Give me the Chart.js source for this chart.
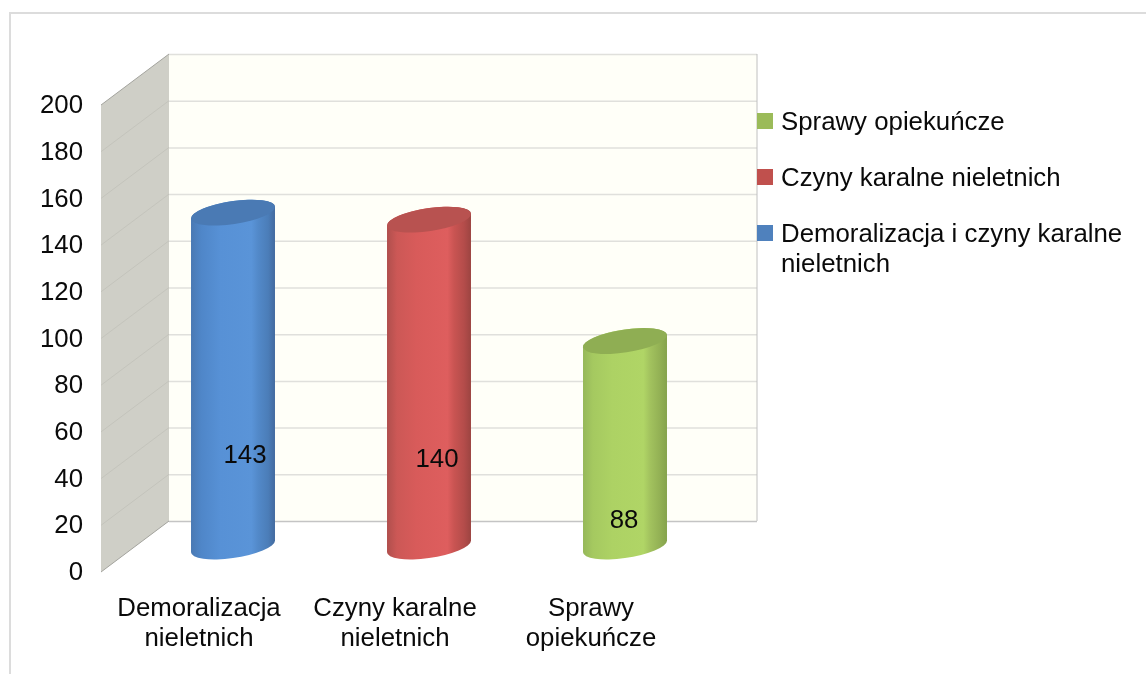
<!DOCTYPE html>
<html>
<head>
<meta charset="utf-8">
<style>
  html, body { margin: 0; padding: 0; background: #fff; }
  canvas { display: block; }
</style>
<script src="https://cdn.jsdelivr.net/npm/chart.js@4"></script>
</head>
<body>
<canvas id="chart" width="1146" height="674"></canvas>
<script>
const categories = [['Demoralizacja', 'nieletnich'], ['Czyny karalne', 'nieletnich'], ['Sprawy', 'opiekuńcze']];
const counts = [143, 140, 88];
const legendNames = [['Sprawy opiekuńcze'], ['Czyny karalne nieletnich'], ['Demoralizacja i czyny karalne', 'nieletnich']];
const legendColors = ['#9bbb59', '#c0504d', '#4f81bd'];
const barColors = ['#4f81bd', '#c0504d', '#9bbb59'];
const capColors = ['#4a7ab4', '#b85250', '#8fae53'];
const bodyStops = [
  ['#4a79b3', '#4f86c8', '#5791d6', '#5a94d8', '#5289c9', '#4b7db8', '#436a9f'],
  ['#b04f4d', '#cc5856', '#d85b5a', '#de5e5e', '#c95452', '#b34c4a', '#9c4441'],
  ['#96b85a', '#a5c960', '#add264', '#b0d566', '#a2c25e', '#92b054', '#85a34c'],
];
const stopAt = [0, 0.12, 0.35, 0.72, 0.8, 0.92, 1];

// moved by hand in the original, so kept as offsets from the foot of each cylinder
const labelOffsets = [[12, -92], [8, -88], [-1, -27]];

const FONT = '"Liberation Sans", Arial, sans-serif';
const TEXT = '#0a0a0a';
const FONT_SIZE = 25.8;
const DEPTH_X = 68;
const DEPTH_Y = 51;
const TILT = -8.5 * Math.PI / 180;

const frame = {
  id: 'frame',
  beforeDraw(chart) {
    const { ctx, width, height, chartArea: a, scales: { y } } = chart;
    ctx.save();
    ctx.strokeStyle = '#dcdcdc';
    ctx.lineWidth = 2;
    ctx.beginPath();
    ctx.moveTo(10, height);
    ctx.lineTo(10, 13);
    ctx.lineTo(width, 13);
    ctx.stroke();

    // side wall
    ctx.fillStyle = '#cfcfc7';
    ctx.beginPath();
    ctx.moveTo(a.left, a.top);
    ctx.lineTo(a.left + DEPTH_X, a.top - DEPTH_Y);
    ctx.lineTo(a.left + DEPTH_X, a.bottom - DEPTH_Y);
    ctx.lineTo(a.left, a.bottom);
    ctx.closePath();
    ctx.fill();

    // back wall
    ctx.fillStyle = '#fffff8';
    ctx.fillRect(a.left + DEPTH_X, a.top - DEPTH_Y, a.right - a.left, a.bottom - a.top);

    y.ticks.forEach((t) => {
      const py = y.getPixelForValue(t.value);
      if (t.value > 0 && t.value < 200) {
        ctx.strokeStyle = '#c4c4bc';
        ctx.lineWidth = 1;
        ctx.beginPath();
        ctx.moveTo(a.left, py);
        ctx.lineTo(a.left + DEPTH_X, py - DEPTH_Y);
        ctx.stroke();
      }
      ctx.strokeStyle = t.value === 0 ? '#c4c4c4' : '#e0e0dc';
      ctx.lineWidth = 1.5;
      ctx.beginPath();
      ctx.moveTo(a.left + DEPTH_X, py - DEPTH_Y + 0.5);
      ctx.lineTo(a.right + DEPTH_X, py - DEPTH_Y + 0.5);
      ctx.stroke();
    });

    // wall edges
    ctx.lineWidth = 1;
    ctx.strokeStyle = '#c0c0c0';
    ctx.beginPath();
    ctx.moveTo(a.right + DEPTH_X, a.top - DEPTH_Y);
    ctx.lineTo(a.right + DEPTH_X, a.bottom - DEPTH_Y);
    ctx.stroke();
    ctx.strokeStyle = '#a3a39d';
    ctx.beginPath();
    ctx.moveTo(a.left, a.top);
    ctx.lineTo(a.left + DEPTH_X, a.top - DEPTH_Y);
    ctx.moveTo(a.left, a.bottom);
    ctx.lineTo(a.left + DEPTH_X, a.bottom - DEPTH_Y);
    ctx.stroke();
    ctx.restore();
  },
};

const cylinders = {
  id: 'cylinders',
  // the library's flat bar is replaced, its geometry is still what places the cylinder
  beforeDatasetDraw(chart, args) {
    const { ctx } = chart;
    const meta = args.meta;
    ctx.save();
    meta.data.forEach((bar, i) => {
      const cx = bar.x + DEPTH_X / 2;
      const topY = bar.y - DEPTH_Y / 2;
      const baseY = bar.base - DEPTH_Y / 2;
      const rx = bar.width * 0.505;
      const ry = rx * 0.27;
      const t0 = Math.atan2(-ry * Math.sin(TILT), rx * Math.cos(TILT));

      const grad = ctx.createLinearGradient(cx - bar.width / 2, 0, cx + bar.width / 2, 0);
      stopAt.forEach((s, k) => grad.addColorStop(s, bodyStops[i][k]));
      ctx.fillStyle = grad;
      ctx.beginPath();
      ctx.ellipse(cx, baseY, rx, ry, TILT, t0, t0 + Math.PI);
      ctx.ellipse(cx, topY, rx, ry, TILT, t0 + Math.PI, t0 + 2 * Math.PI);
      ctx.closePath();
      ctx.fill();

      ctx.fillStyle = capColors[i];
      ctx.beginPath();
      ctx.ellipse(cx, topY, rx, ry, TILT, 0, 2 * Math.PI);
      ctx.fill();

      ctx.fillStyle = TEXT;
      ctx.font = FONT_SIZE + 'px ' + FONT;
      ctx.textAlign = 'center';
      ctx.textBaseline = 'middle';
      ctx.fillText(String(counts[i]), cx + labelOffsets[i][0], baseY + labelOffsets[i][1] + 1);
    });
    ctx.restore();
    return false;
  },
  afterDraw(chart) {
    const { ctx, chartArea: a } = chart;
    const left = a.right + DEPTH_X;
    const rowGap = 56;
    const lineHeight = 30;
    ctx.save();
    ctx.font = FONT_SIZE + 'px ' + FONT;
    ctx.textAlign = 'left';
    ctx.textBaseline = 'middle';
    legendNames.forEach((lines, i) => {
      const rowY = 121 + i * rowGap;
      ctx.fillStyle = legendColors[i];
      ctx.fillRect(left, rowY - 8, 16, 16);
      ctx.fillStyle = TEXT;
      lines.forEach((line, k) => ctx.fillText(line, left + 24, rowY + 2 + k * lineHeight));
    });
    ctx.restore();
  },
};

new Chart(document.getElementById('chart'), {
  type: 'bar',
  data: {
    labels: categories,
    datasets: [{
      data: counts,
      backgroundColor: barColors,
      barPercentage: 84 / 196,
      categoryPercentage: 1,
    }],
  },
  options: {
    responsive: false,
    animation: false,
    layout: { padding: { top: 105, right: 457, left: 0, bottom: 0 } },
    plugins: { legend: { display: false }, tooltip: { enabled: false } },
    scales: {
      x: {
        grid: { display: false },
        border: { display: false },
        afterFit(s) { s.height = 102; },
        ticks: {
          color: TEXT,
          padding: 14,
          maxRotation: 0,
          autoSkip: false,
          font: { family: FONT, size: FONT_SIZE, lineHeight: 30 / FONT_SIZE },
        },
      },
      y: {
        min: 0,
        max: 200,
        grid: { display: false, drawTicks: false },
        border: { display: false },
        afterFit(s) { s.width = 101; },
        ticks: {
          color: TEXT,
          stepSize: 20,
          padding: 18,
          labelOffset: 1,
          font: { family: FONT, size: FONT_SIZE },
        },
      },
    },
  },
  plugins: [frame, cylinders],
});
</script>
</body>
</html>
